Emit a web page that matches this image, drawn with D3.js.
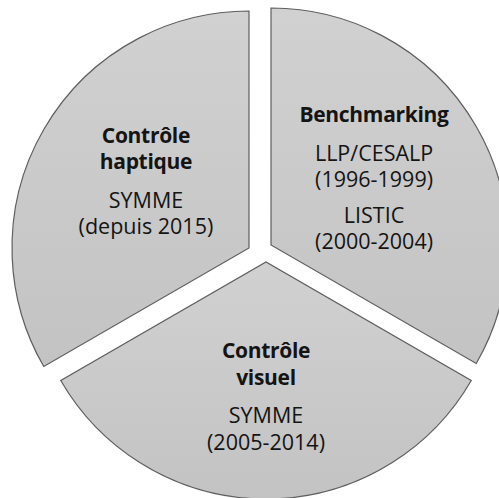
<!DOCTYPE html>
<html>
<head>
<meta charset="utf-8">
<script src="https://cdn.jsdelivr.net/npm/d3@7"></script>
<style>
  html, body { margin: 0; padding: 0; background: #fff; }
  svg { display: block; }
  text { font-family: "Open Sans", "Noto Sans", sans-serif; fill: #141414; }
</style>
</head>
<body>
<script>
// slices, clockwise from 12 o'clock
var categories  = ["Benchmarking", "Contrôle visuel", "Contrôle haptique"];
var values      = [1, 1, 1];
var titleLines  = [["Benchmarking"], ["Contrôle", "visuel"], ["Contrôle", "haptique"]];
var detailParas = [
  [["LLP/CESALP", "(1996-1999)"], ["LISTIC", "(2000-2004)"]],
  [["SYMME", "(2005-2014)"]],
  [["SYMME", "(depuis 2015)"]]
];

window.onload = function(){

  var width = 499, height = 498,
      cx = 261, cy = 252,
      radius = 237,
      // exploded offset of each slice from the centre
      explode = [ {dx: 10, dy: -7}, {dx: 5, dy: 10}, {dx: -12, dy: -4} ],
      labelR  = [119, 142, 119],
      lineH   = 26.5,
      paraGap = 9;

  var svg = d3.select("body").append("svg")
    .attr("width", width)
    .attr("height", height);

  var defs = svg.append("defs");
  var grad = defs.append("linearGradient")
    .attr("id", "sliceFill")
    .attr("x1", 0).attr("y1", 0).attr("x2", 0).attr("y2", 1);
  grad.append("stop").attr("offset", "0%").attr("stop-color", "#d1d1d1");
  grad.append("stop").attr("offset", "100%").attr("stop-color", "#c3c3c3");

  var pie = d3.pie().sort(null).value(function(d){ return d; });
  var arc = d3.arc().innerRadius(0).outerRadius(radius);

  var arcs = pie(values);

  var g = svg.selectAll("g.slice")
    .data(arcs)
    .enter().append("g")
    .attr("class", "slice")
    .attr("transform", function(d, i){
      return "translate(" + (cx + explode[i].dx) + "," + (cy + explode[i].dy) + ")";
    });

  g.append("path")
    .attr("d", arc)
    .style("fill", "url(#sliceFill)")
    .style("stroke", "#5e5e5e")
    .style("stroke-width", 1.2)
    .style("stroke-linejoin", "miter");

  g.each(function(d, i){
    var mid = (d.startAngle + d.endAngle) / 2,
        lx = Math.sin(mid) * labelR[i],
        ly = -Math.cos(mid) * labelR[i];

    // build list of lines with baselines
    var lines = [], y = 0;
    titleLines[i].forEach(function(t, k){
      if (k > 0) y += lineH;
      lines.push({ text: t, bold: true, y: y });
    });
    detailParas[i].forEach(function(p){
      y += lineH + paraGap + (lines.length && lines[lines.length-1].bold ? 3 : 0);
      p.forEach(function(t, k){
        if (k > 0) y += lineH;
        lines.push({ text: t, bold: false, y: y });
      });
    });
    var off = ly - y / 2;

    d3.select(this).selectAll("text")
      .data(lines)
      .enter().append("text")
      .attr("x", lx)
      .attr("y", function(l){ return off + l.y; })
      .attr("text-anchor", "middle")
      .style("font-size", function(l){ return l.bold ? "21px" : "21.5px"; })
      .style("font-weight", function(l){ return l.bold ? 700 : 400; })
      .style("letter-spacing", function(l){ return l.bold ? "-0.3px" : null; })
      .text(function(l){ return l.text; });
  });
};
</script>
</body>
</html>
